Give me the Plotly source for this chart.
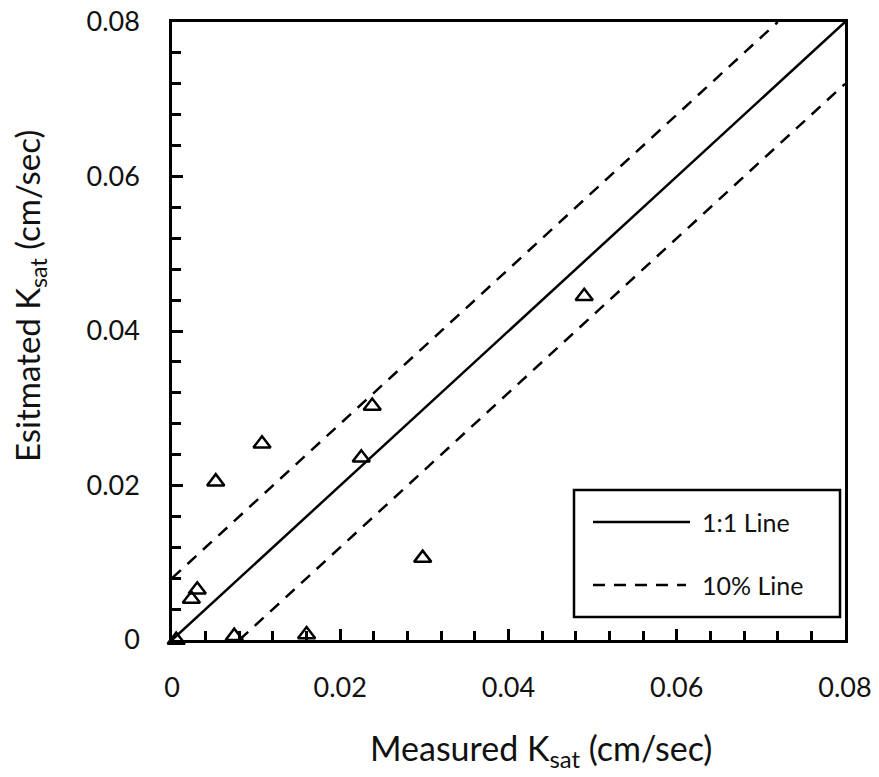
import plotly.graph_objects as go

# Data
measured = [0.0005, 0.0023, 0.0030, 0.0052, 0.0107, 0.0074, 0.0160, 0.0225, 0.0238, 0.0298, 0.0490]
estimated = [0.0000, 0.0053, 0.0065, 0.0205, 0.0254, 0.0005, 0.0007, 0.0236, 0.0303, 0.0106, 0.0445]
line_x = [0.0, 0.08]
one_to_one = [0.0, 0.08]
offset = 0.008
tick_vals = [0, 0.02, 0.04, 0.06, 0.08]
tick_text = ["0", "0.02", "0.04", "0.06", "0.08"]

FONT = "Lato, 'Open Sans', sans-serif"
TXT = "#111"

L, R, T, B = 172, 845, 22, 640
W, H = 879, 777

fig = go.Figure()
fig.add_trace(go.Scatter(x=line_x, y=one_to_one, mode="lines",
                         line=dict(color="black", width=2.5), showlegend=False))
fig.add_trace(go.Scatter(x=[0.0, 0.08 - offset], y=[offset, 0.08], mode="lines",
                         line=dict(color="black", width=2.5, dash="12px,9px"), showlegend=False))
fig.add_trace(go.Scatter(x=[offset, 0.08], y=[0.0, 0.08 - offset], mode="lines",
                         line=dict(color="black", width=2.5, dash="12px,9px"), showlegend=False))
fig.add_trace(go.Scatter(x=measured, y=estimated, mode="markers",
                         marker=dict(symbol="triangle-up-open", size=15, color="black",
                                     line=dict(width=2.5, color="black")),
                         showlegend=False, cliponaxis=False))

axis_common = dict(range=[0, 0.08], tickvals=tick_vals, ticktext=tick_text,
                   ticks="inside", ticklen=11, tickwidth=2.5, tickcolor="black",
                   showline=True, linecolor="black", linewidth=2.5, mirror=True,
                   showgrid=False, zeroline=False, automargin=False,
                   minor=dict(dtick=0.004, ticks="inside", ticklen=9, tickwidth=2.5,
                              tickcolor="black", showgrid=False),
                   tickfont=dict(size=27, family=FONT, color=TXT))

fig.update_xaxes(**axis_common, ticklabelstandoff=22)
fig.update_yaxes(**axis_common, ticklabelstandoff=24)

def px_x(p):
    return (p - L) / (R - L)

def px_y(p):
    return (B - p) / (B - T)

# Axis titles
fig.add_annotation(xref="paper", yref="paper", x=px_x(541), y=px_y(750),
                   text="Measured K<sub>sat</sub> (cm/sec)", showarrow=False,
                   xanchor="center", yanchor="middle",
                   font=dict(size=34, family=FONT, color=TXT))
fig.add_annotation(xref="paper", yref="paper", x=px_x(30), y=px_y(296),
                   text="Esitmated K<sub>sat</sub> (cm/sec)", showarrow=False, textangle=-90,
                   xanchor="center", yanchor="middle",
                   font=dict(size=33, family=FONT, color=TXT))

# Legend box drawn inside the plot area
fig.add_shape(type="rect", xref="paper", yref="paper",
              x0=px_x(574), x1=px_x(840), y0=px_y(617), y1=px_y(490),
              line=dict(color="black", width=2.5), fillcolor="white", layer="above")
fig.add_shape(type="line", xref="paper", yref="paper",
              x0=px_x(593), x1=px_x(690), y0=px_y(522), y1=px_y(522),
              line=dict(color="black", width=2.5), layer="above")
fig.add_shape(type="line", xref="paper", yref="paper",
              x0=px_x(593), x1=px_x(686), y0=px_y(585), y1=px_y(585),
              line=dict(color="black", width=2.5, dash="12px,9px"), layer="above")
fig.add_annotation(xref="paper", yref="paper", x=px_x(700), y=px_y(522),
                   text="1:1 Line", showarrow=False, xanchor="left", yanchor="middle",
                   font=dict(size=25, family=FONT, color=TXT))
fig.add_annotation(xref="paper", yref="paper", x=px_x(700), y=px_y(585),
                   text="10% Line", showarrow=False, xanchor="left", yanchor="middle",
                   font=dict(size=25, family=FONT, color=TXT))

fig.update_layout(width=W, height=H,
                  margin=dict(l=L, r=W - R, t=T, b=H - B, autoexpand=False),
                  paper_bgcolor="white", plot_bgcolor="white",
                  font=dict(family=FONT, color=TXT))

fig.write_html("out.html", config={"displayModeBar": False},
               post_script="document.body.style.margin='0';document.body.style.overflow='hidden';")
